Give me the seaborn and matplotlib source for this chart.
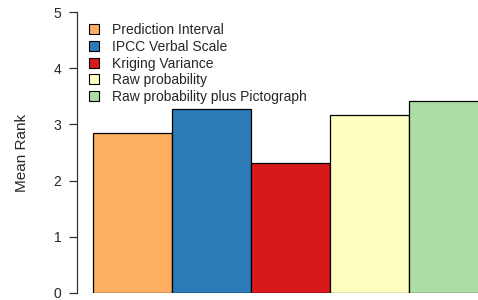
import pandas as pd
import matplotlib
matplotlib.use("Agg")
import matplotlib.pyplot as plt
import seaborn as sns
from matplotlib.patches import Patch

# Data
categories = ['Prediction Interval', 'IPCC Verbal Scale', 'Kriging Variance',
              'Raw probability', 'Raw probability plus Pictograph']
mean_rank = [2.85, 3.27, 2.32, 3.16, 3.41]
colors = ['#FDAE61', '#2C7BB6', '#D7191C', '#FFFFBF', '#ABDDA4']
y_ticks = [0, 1, 2, 3, 4, 5]

df = pd.DataFrame({'Metodo': categories, 'Mean Rank': mean_rank})

sns.set_style('white')
plt.rcParams['font.family'] = ['Liberation Sans', 'DejaVu Sans']

fig = plt.figure(figsize=(4.78, 3.0), dpi=100)
# axes from the y-axis line to the right edge of the figure
ax = fig.add_axes([77 / 478, 7 / 300, 1 - 77 / 478, 281 / 300])

sns.barplot(data=df, x='Metodo', y='Mean Rank', hue='Metodo', palette=colors,
            saturation=1, width=1.0, edgecolor='black', linewidth=0.9,
            legend=False, ax=ax)

ax.set_ylim(0, 5)
ax.set_xlim(-0.5 - 16 / 79, -0.5 + 385 / 79)

for s in ['top', 'right', 'bottom']:
    ax.spines[s].set_visible(False)
ax.spines['left'].set_color('#333333')
ax.spines['left'].set_linewidth(0.9)
ax.set_yticks(y_ticks)
ax.tick_params(axis='y', length=5.8, width=0.9, color='#333333', labelsize=10,
               pad=5.5, left=True)
ax.set_xticks([])
ax.set_xlabel('')
ax.set_ylabel('Mean Rank', fontsize=11)
ax.yaxis.label.set_verticalalignment('center')
ax.yaxis.set_label_coords(-0.137, 0.5)

handles = [Patch(facecolor=c, edgecolor='black', linewidth=0.8) for c in colors]
ax.legend(handles, categories, loc='upper left', bbox_to_anchor=(0.030, 0.961),
          frameon=False, fontsize=10, handlelength=0.72, handleheight=0.72,
          handletextpad=0.94, labelspacing=0.2, borderaxespad=0, borderpad=0)

fig.savefig('out.png', dpi=100)
